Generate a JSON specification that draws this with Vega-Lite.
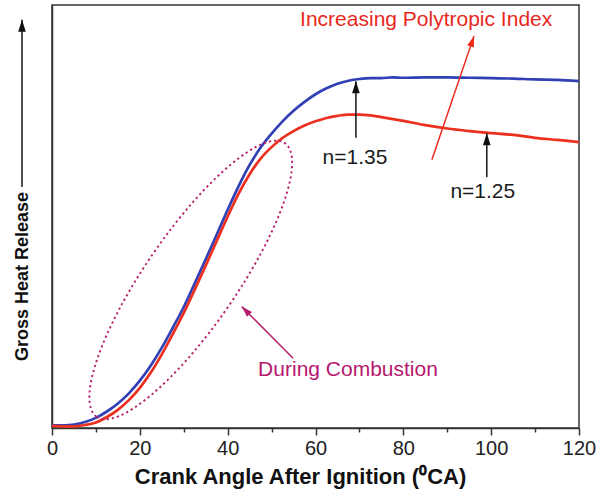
{
  "$schema": "https://vega.github.io/schema/vega-lite/v6.json",
  "width": 527,
  "height": 423,
  "autosize": {"type": "none"},
  "padding": {"left": 52, "top": 5, "right": 25, "bottom": 73},
  "background": "white",
  "config": {
    "font": "Liberation Sans",
    "view": {"stroke": "#333333", "strokeWidth": 1.5}
  },
  "datasets": {
    "curves": [
      {"series": "n=1.35", "x": 0, "y": 0.6}, {"series": "n=1.35", "x": 3, "y": 0.6},
      {"series": "n=1.35", "x": 5, "y": 0.8}, {"series": "n=1.35", "x": 7.5, "y": 1.4},
      {"series": "n=1.35", "x": 10, "y": 2.4}, {"series": "n=1.35", "x": 12.5, "y": 3.9},
      {"series": "n=1.35", "x": 15, "y": 5.8}, {"series": "n=1.35", "x": 17.5, "y": 8.2},
      {"series": "n=1.35", "x": 20, "y": 11.2}, {"series": "n=1.35", "x": 22.5, "y": 14.8},
      {"series": "n=1.35", "x": 25, "y": 19.0}, {"series": "n=1.35", "x": 27.5, "y": 23.7},
      {"series": "n=1.35", "x": 30, "y": 28.6}, {"series": "n=1.35", "x": 32.5, "y": 34.2},
      {"series": "n=1.35", "x": 35, "y": 39.9}, {"series": "n=1.35", "x": 37.5, "y": 45.7},
      {"series": "n=1.35", "x": 40, "y": 51.6}, {"series": "n=1.35", "x": 42.5, "y": 57.2},
      {"series": "n=1.35", "x": 45, "y": 62.2}, {"series": "n=1.35", "x": 47.5, "y": 66.3},
      {"series": "n=1.35", "x": 50, "y": 69.6}, {"series": "n=1.35", "x": 52.5, "y": 72.5},
      {"series": "n=1.35", "x": 55, "y": 75.0}, {"series": "n=1.35", "x": 57.5, "y": 77.1},
      {"series": "n=1.35", "x": 60, "y": 78.9}, {"series": "n=1.35", "x": 62.5, "y": 80.3},
      {"series": "n=1.35", "x": 65, "y": 81.4}, {"series": "n=1.35", "x": 67.5, "y": 82.1},
      {"series": "n=1.35", "x": 70, "y": 82.5}, {"series": "n=1.35", "x": 72.5, "y": 82.7},
      {"series": "n=1.35", "x": 75, "y": 82.7}, {"series": "n=1.35", "x": 77.5, "y": 82.9},
      {"series": "n=1.35", "x": 80, "y": 82.8}, {"series": "n=1.35", "x": 85, "y": 82.9},
      {"series": "n=1.35", "x": 90, "y": 82.9}, {"series": "n=1.35", "x": 95, "y": 82.8},
      {"series": "n=1.35", "x": 100, "y": 82.7}, {"series": "n=1.35", "x": 105, "y": 82.6},
      {"series": "n=1.35", "x": 110, "y": 82.4}, {"series": "n=1.35", "x": 115, "y": 82.3},
      {"series": "n=1.35", "x": 120, "y": 82.0},
      {"series": "n=1.25", "x": 0, "y": 0.5}, {"series": "n=1.25", "x": 3, "y": 0.4},
      {"series": "n=1.25", "x": 5, "y": 0.4}, {"series": "n=1.25", "x": 7.5, "y": 0.7},
      {"series": "n=1.25", "x": 10, "y": 1.3}, {"series": "n=1.25", "x": 12.5, "y": 2.6},
      {"series": "n=1.25", "x": 15, "y": 4.3}, {"series": "n=1.25", "x": 17.5, "y": 6.6},
      {"series": "n=1.25", "x": 20, "y": 9.5}, {"series": "n=1.25", "x": 22.5, "y": 13.1},
      {"series": "n=1.25", "x": 25, "y": 17.4}, {"series": "n=1.25", "x": 27.5, "y": 22.2},
      {"series": "n=1.25", "x": 30, "y": 27.2}, {"series": "n=1.25", "x": 32.5, "y": 32.7},
      {"series": "n=1.25", "x": 35, "y": 38.4}, {"series": "n=1.25", "x": 37.5, "y": 44.2},
      {"series": "n=1.25", "x": 40, "y": 50.0}, {"series": "n=1.25", "x": 42.5, "y": 55.4},
      {"series": "n=1.25", "x": 45, "y": 60.0}, {"series": "n=1.25", "x": 47.5, "y": 63.7},
      {"series": "n=1.25", "x": 50, "y": 66.4}, {"series": "n=1.25", "x": 52.5, "y": 68.6},
      {"series": "n=1.25", "x": 55, "y": 70.2}, {"series": "n=1.25", "x": 57.5, "y": 71.5},
      {"series": "n=1.25", "x": 60, "y": 72.5}, {"series": "n=1.25", "x": 62.5, "y": 73.3},
      {"series": "n=1.25", "x": 65, "y": 73.8}, {"series": "n=1.25", "x": 67.5, "y": 74.1},
      {"series": "n=1.25", "x": 70, "y": 74.1}, {"series": "n=1.25", "x": 72.5, "y": 73.9},
      {"series": "n=1.25", "x": 75, "y": 73.5}, {"series": "n=1.25", "x": 80, "y": 72.6},
      {"series": "n=1.25", "x": 85, "y": 71.6}, {"series": "n=1.25", "x": 90, "y": 70.8},
      {"series": "n=1.25", "x": 95, "y": 70.2}, {"series": "n=1.25", "x": 100, "y": 69.7},
      {"series": "n=1.25", "x": 105, "y": 69.3}, {"series": "n=1.25", "x": 110, "y": 68.6},
      {"series": "n=1.25", "x": 115, "y": 68.1}, {"series": "n=1.25", "x": 120, "y": 67.6}
    ],
    "arrows": [
      {"id": "yaxis", "x": -6.83, "y": 57.0, "x2": -6.83, "y2": 96.5},
      {"id": "index", "x": 86.5, "y": 63.4, "x2": 96.1, "y2": 92.7},
      {"id": "n135", "x": 69.2, "y": 68.6, "x2": 69.2, "y2": 82.0},
      {"id": "n125", "x": 99.0, "y": 59.3, "x2": 99.0, "y2": 69.7},
      {"id": "comb", "x": 54.9, "y": 16.5, "x2": 43.2, "y2": 28.7}
    ],
    "notes": [
      {"id": "index", "label": "Increasing Polytropic Index", "x": 85.2, "y": 96.5},
      {"id": "n135", "label": "n=1.35", "x": 69.0, "y": 63.8},
      {"id": "n125", "label": "n=1.25", "x": 98.1, "y": 55.9},
      {"id": "comb", "label": "During Combustion", "x": 67.4, "y": 13.7}
    ],
    "region": [{"x": 31.6, "y": 35.0}]
  },
  "layer": [
    {
      "data": {"name": "curves"},
      "mark": {"type": "line", "strokeWidth": 2.7, "interpolate": "monotone"},
      "encoding": {
        "x": {
          "field": "x", "type": "quantitative",
          "scale": {"domain": [0, 120], "nice": false},
          "axis": {
            "title": "Crank Angle After Ignition (⁰CA)",
            "titleFontSize": 22, "titleFontWeight": "bold", "titleColor": "#111111",
            "titlePadding": 8, "titleX": 248, "titleAlign": "center",
            "values": [0, 10, 20, 30, 40, 50, 60, 70, 80, 90, 100, 110, 120],
            "labelExpr": "datum.value % 20 === 0 ? datum.label : ''",
            "labelFontSize": 20, "labelColor": "#222222", "labelPadding": 3,
            "labelFlush": false, "labelOverlap": false,
            "tickSize": {"condition": {"test": "datum.value % 20 === 0", "value": 7}, "value": 4},
            "tickColor": "#333333", "tickWidth": 1.5,
            "domainColor": "#333333", "domainWidth": 1.5,
            "grid": false
          }
        },
        "y": {
          "field": "y", "type": "quantitative",
          "scale": {"domain": [0, 100], "nice": false},
          "axis": {
            "title": "Gross Heat Release",
            "titleFontSize": 18, "titleFontWeight": "bold", "titleColor": "#111111",
            "titleX": -30, "titleY": 271, "titleAngle": -90,
            "titleAlign": "center", "titleBaseline": "middle",
            "labels": false, "ticks": false, "grid": false,
            "domainColor": "#333333", "domainWidth": 1.5
          }
        },
        "color": {
          "field": "series", "type": "nominal",
          "scale": {"domain": ["n=1.35", "n=1.25"], "range": ["#3140b4", "#ec3020"]},
          "legend": null
        }
      }
    },
    {
      "data": {"name": "region"},
      "mark": {
        "type": "point",
        "shape": "M -1 0 A 1 0.277 0 1 0 1 0 A 1 0.277 0 1 0 -1 0 Z",
        "size": 110224, "angle": -55.5, "filled": false,
        "stroke": "#b5206e", "strokeWidth": 1.9, "strokeDash": [2.2, 3], "opacity": 1
      },
      "encoding": {
        "x": {"field": "x", "type": "quantitative", "scale": {"domain": [0, 120], "nice": false}},
        "y": {"field": "y", "type": "quantitative", "scale": {"domain": [0, 100], "nice": false}}
      }
    },
    {
      "data": {"name": "arrows"},
      "transform": [{"filter": "indexof(['yaxis','n135','n125'], datum.id) >= 0"}],
      "layer": [
        {
          "mark": {"type": "rule", "color": "#222222", "strokeWidth": 1.6},
          "encoding": {
            "x": {"field": "x", "type": "quantitative", "scale": {"domain": [0, 120], "nice": false}},
            "y": {"field": "y", "type": "quantitative", "scale": {"domain": [0, 100], "nice": false}},
            "x2": {"field": "x2"},
            "y2": {"field": "y2"}
          }
        },
        {
          "mark": {"type": "point", "shape": "M 0 0 L 0.32 1 L -0.32 1 Z", "size": 576, "filled": true, "color": "#111111", "opacity": 1},
          "encoding": {
            "x": {"field": "x2", "type": "quantitative", "scale": {"domain": [0, 120], "nice": false}},
            "y": {"field": "y2", "type": "quantitative", "scale": {"domain": [0, 100], "nice": false}}
          }
        }
      ]
    },
    {
      "data": {"name": "arrows"},
      "transform": [{"filter": "datum.id === 'index'"}],
      "layer": [
        {
          "mark": {"type": "rule", "color": "#ec2a1e", "strokeWidth": 1.5},
          "encoding": {
            "x": {"field": "x", "type": "quantitative", "scale": {"domain": [0, 120], "nice": false}},
            "y": {"field": "y", "type": "quantitative", "scale": {"domain": [0, 100], "nice": false}},
            "x2": {"field": "x2"},
            "y2": {"field": "y2"}
          }
        },
        {
          "mark": {"type": "point", "shape": "M 0 0 L 0.32 1 L -0.32 1 Z", "size": 484, "angle": 18.5, "filled": true, "color": "#ec2a1e", "opacity": 1},
          "encoding": {
            "x": {"field": "x2", "type": "quantitative", "scale": {"domain": [0, 120], "nice": false}},
            "y": {"field": "y2", "type": "quantitative", "scale": {"domain": [0, 100], "nice": false}}
          }
        }
      ]
    },
    {
      "data": {"name": "arrows"},
      "transform": [{"filter": "datum.id === 'comb'"}],
      "layer": [
        {
          "mark": {"type": "rule", "color": "#b5206e", "strokeWidth": 1.5},
          "encoding": {
            "x": {"field": "x", "type": "quantitative", "scale": {"domain": [0, 120], "nice": false}},
            "y": {"field": "y", "type": "quantitative", "scale": {"domain": [0, 100], "nice": false}},
            "x2": {"field": "x2"},
            "y2": {"field": "y2"}
          }
        },
        {
          "mark": {"type": "point", "shape": "M 0 0 L 0.32 1 L -0.32 1 Z", "size": 484, "angle": -45, "filled": true, "color": "#b5206e", "opacity": 1},
          "encoding": {
            "x": {"field": "x2", "type": "quantitative", "scale": {"domain": [0, 120], "nice": false}},
            "y": {"field": "y2", "type": "quantitative", "scale": {"domain": [0, 100], "nice": false}}
          }
        }
      ]
    },
    {
      "data": {"name": "notes"},
      "mark": {"type": "text", "fontSize": 21, "align": "center", "baseline": "middle"},
      "encoding": {
        "x": {"field": "x", "type": "quantitative", "scale": {"domain": [0, 120], "nice": false}},
        "y": {"field": "y", "type": "quantitative", "scale": {"domain": [0, 100], "nice": false}},
        "text": {"field": "label", "type": "nominal"},
        "color": {
          "field": "id", "type": "nominal",
          "scale": {"domain": ["index", "n135", "n125", "comb"], "range": ["#e8281d", "#1a1a1a", "#1a1a1a", "#b5176e"]},
          "legend": null
        }
      }
    }
  ],
  "resolve": {"scale": {"color": "independent"}}
}
